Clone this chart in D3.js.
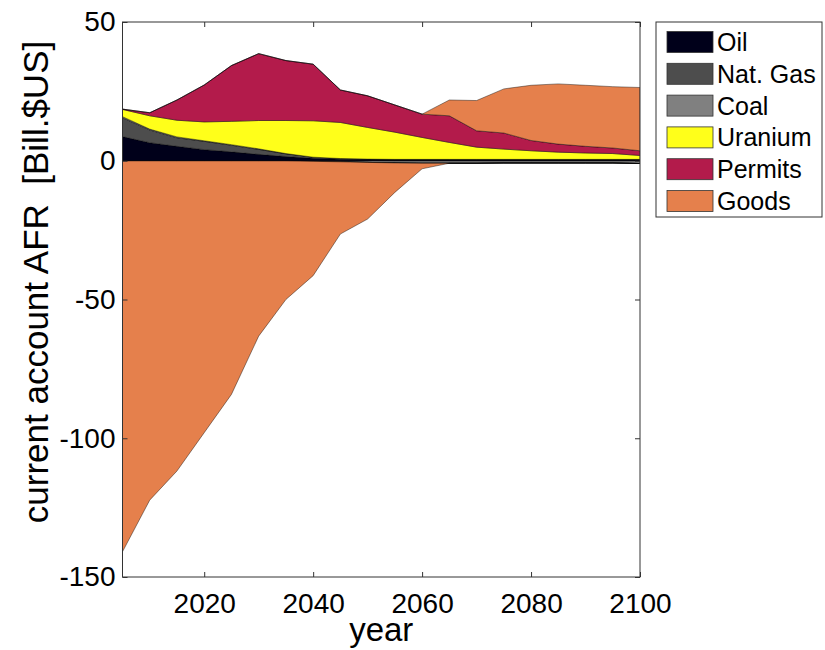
<!DOCTYPE html>
<html><head><meta charset="utf-8">
<script src="https://cdn.jsdelivr.net/npm/d3@7"></script>
<style>
html,body{margin:0;padding:0;background:#fff;}
svg text{font-family:"Liberation Sans",Arial,sans-serif;fill:#000;}
</style></head>
<body>
<svg id="chart" width="825" height="650"></svg>
<script>
const years = [2005,2010,2015,2020,2025,2030,2035,2040,2045,2050,2055,2060,2065,2070,2075,2080,2085,2090,2095,2100];
const oil     = [8.7,6.5,5.2,4.0,3.2,2.3,1.5,0.9,0.5,0.4,0.3,0.3,0.3,0.3,0.3,0.3,0.3,0.3,0.3,0.3];
const natGas  = [6.8,4.6,3.1,3.0,2.4,1.8,1.0,0.4,0.3,0.2,0.2,0.2,0.2,0.2,0.2,0.2,0.2,0.2,0.2,0.2];
const coal    = [0.4,0.3,0.3,0.2,0.2,0.2,0.1,-0.2,-0.4,-0.6,-0.8,-0.9,-0.9,-0.9,-0.8,-0.8,-0.8,-0.8,-0.8,-1.0];
const uranium = [2.6,4.8,6.0,6.8,8.4,10.2,11.9,13.1,13.0,11.4,9.8,7.9,6.1,4.4,3.7,3.1,2.6,2.3,2.1,1.4];
const permits = [0.1,1.1,7.3,13.3,20.1,24.1,21.6,20.4,11.7,11.4,9.8,8.4,9.6,5.9,5.8,3.7,2.9,2.4,2.0,1.7];
const goods   = [-140.9,-122.3,-111.8,-98.0,-84.2,-63.2,-50.0,-41.2,-26.0,-20.4,-10.6,-2.0,5.7,10.9,15.9,19.9,21.7,22.0,22.1,22.8];

const seriesNames = ["Oil","Nat. Gas","Coal","Uranium","Permits","Goods"];
const seriesColors = ["#00001a","#4d4d4d","#808080","#ffff1a","#b31b4b","#e5804c"];
const xTicks = [2020,2040,2060,2080,2100];
const yTicks = [-150,-100,-50,0,50];

const seriesValues = [oil,natGas,coal,uranium,permits,goods];
// positive parts and negative parts stacked separately
const posRows = years.map((yr,i)=>{
  const r = {year:yr};
  seriesNames.forEach((n,k)=>{ r[n]=Math.max(0,seriesValues[k][i]); });
  return r;
});
const negRows = years.map((yr,i)=>{
  const r = {year:yr};
  seriesNames.forEach((n,k)=>{ r[n]=Math.min(0,seriesValues[k][i]); });
  return r;
});

const svg = d3.select("#chart");
const L=122.5, R=640, T=22, B=577;
const x = d3.scaleLinear().domain([2005,2100]).range([L,R]);
const y = d3.scaleLinear().domain([-150,50]).range([B,T]);

svg.append("defs").append("clipPath").attr("id","clip")
  .append("rect").attr("x",L).attr("y",T).attr("width",R-L).attr("height",B-T);

const stack = d3.stack().keys(seriesNames);
const posLayers = stack(posRows);
const negLayers = stack(negRows);
const area = d3.area().x(d=>x(d.data.year)).y0(d=>y(d[0])).y1(d=>y(d[1]));

const g = svg.append("g").attr("clip-path","url(#clip)");
function drawLayers(layers, cls){
  g.selectAll("path."+cls).data(layers).join("path")
    .attr("class",cls)
    .attr("d",area)
    .attr("fill",(d,i)=>seriesColors[i])
    .attr("stroke","#000")
    .attr("stroke-opacity",0.7)
    .attr("stroke-width",0.6)
    .attr("stroke-linejoin","round");
}
drawLayers(negLayers,"neg");
drawLayers(posLayers,"pos");

// box
const axisColor="#333";
svg.append("rect").attr("x",L).attr("y",T).attr("width",R-L).attr("height",B-T)
  .attr("fill","none").attr("stroke",axisColor).attr("stroke-width",1);

const fmt = d => String(d);
const xAxisB = d3.axisBottom(x).tickValues(xTicks).tickSizeInner(-5).tickSizeOuter(0).tickPadding(16).tickFormat(fmt);
const xAxisT = d3.axisTop(x).tickValues(xTicks).tickSizeInner(-5).tickSizeOuter(0).tickFormat("");
const yAxisL = d3.axisLeft(y).tickValues(yTicks).tickSizeInner(-5).tickSizeOuter(0).tickPadding(7).tickFormat(fmt);
const yAxisR = d3.axisRight(y).tickValues(yTicks).tickSizeInner(-5).tickSizeOuter(0).tickFormat("");

function style(sel){
  sel.select(".domain").remove();
  sel.selectAll(".tick line").attr("stroke",axisColor);
  sel.selectAll(".tick text").attr("font-size","28px").attr("fill","#000")
     .style("font-family","'Liberation Sans',Arial,sans-serif");
}
svg.append("g").attr("transform",`translate(0,${B})`).call(xAxisB).call(style);
svg.append("g").attr("transform",`translate(0,${T})`).call(xAxisT).call(style);
svg.append("g").attr("transform",`translate(${L},0)`).call(yAxisL).call(style);
svg.append("g").attr("transform",`translate(${R},0)`).call(yAxisR).call(style);

// axis labels
svg.append("text").attr("x",(L+R)/2).attr("y",641).attr("text-anchor","middle")
  .attr("font-size","33px").text("year");
svg.append("text").attr("transform",`translate(48,282) rotate(-90)`)
  .attr("text-anchor","middle").attr("font-size","35px")
  .attr("xml:space","preserve").style("white-space","pre")
  .text("current account AFR  [Bill.$US]");

// legend
const lg = svg.append("g");
lg.append("rect").attr("x",656).attr("y",22).attr("width",166).attr("height",195)
  .attr("fill","#fff").attr("stroke",axisColor).attr("stroke-width",1);
seriesNames.forEach((n,i)=>{
  const cy = 42 + i*31.8;
  lg.append("rect").attr("x",667).attr("y",cy-10.5).attr("width",46).attr("height",21)
    .attr("fill",seriesColors[i]).attr("stroke","#333").attr("stroke-width",0.8);
  lg.append("text").attr("x",717).attr("y",cy).attr("dy","0.36em")
    .attr("font-size","25px").text(n);
});
</script>
</body></html>
